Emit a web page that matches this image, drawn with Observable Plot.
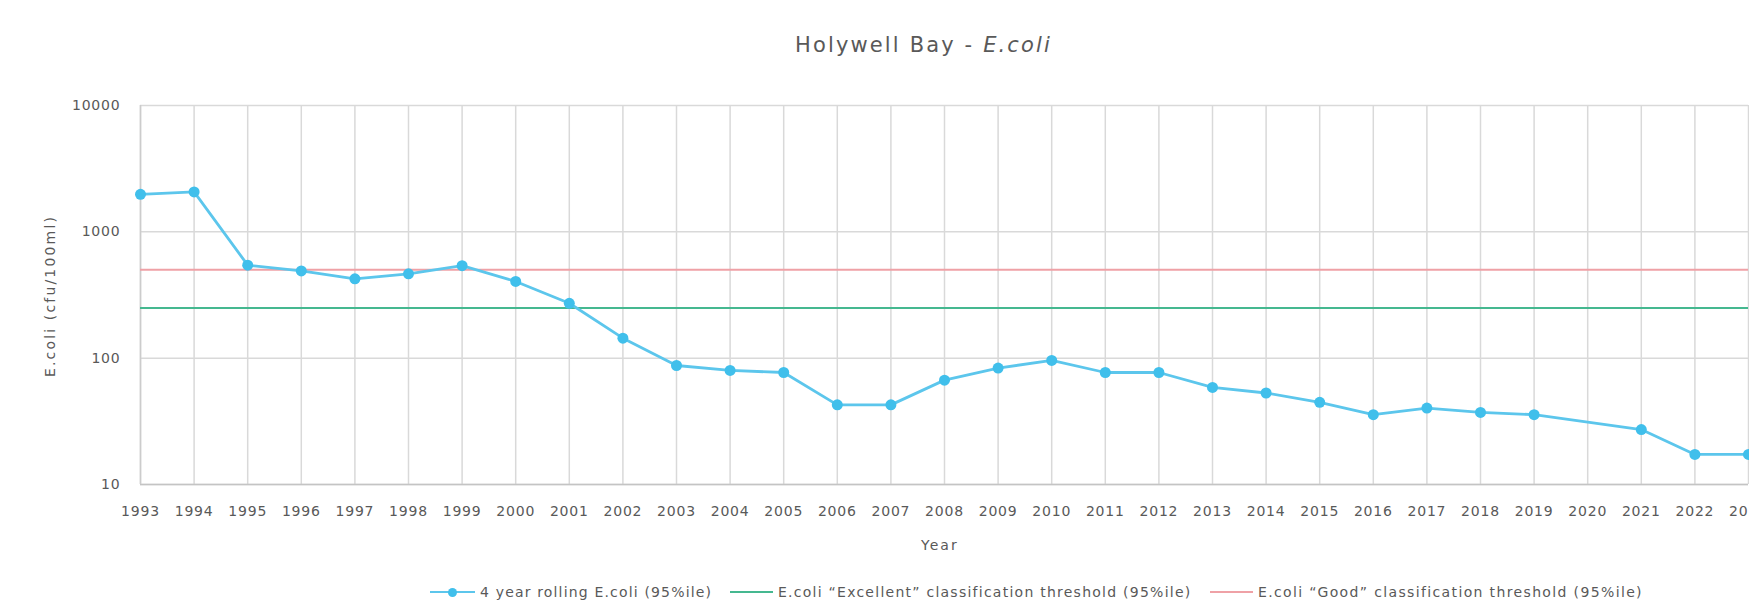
<!DOCTYPE html>
<html>
<head>
<meta charset="utf-8">
<script src="https://cdn.jsdelivr.net/npm/d3@7"></script>
<script src="https://cdn.jsdelivr.net/npm/@observablehq/plot@0.6"></script>
<style>
html, body { margin: 0; padding: 0; background: #fff; overflow: hidden; }
#wrap { position: relative; width: 1749px; height: 600px; font-family: "DejaVu Sans", sans-serif; color: #595959; }
#wrap svg { position: absolute; left: 0; top: 0; }
.lbl { position: absolute; white-space: nowrap; line-height: 1; }
.sw { position: absolute; height: 2px; }
</style>
</head>
<body>
<div id="wrap"></div>
<script>
// ---- data ----
const years = [1993, 1994, 1995, 1996, 1997, 1998, 1999, 2000, 2001, 2002, 2003, 2004, 2005, 2006, 2007, 2008,
               2009, 2010, 2011, 2012, 2013, 2014, 2015, 2016, 2017, 2018, 2019, 2020, 2021, 2022, 2023];
const rollingEcoli = [1980, 2070, 545, 490, 425, 465, 540, 405, 272, 144, 87.5, 80, 77, 42.7, 42.7, 67,
                      83.5, 96, 77, 77, 58.7, 53, 44.7, 35.7, 40.3, 37.2, 35.7, null, 27.2, 17.3, 17.3];
const excellentThreshold = [250];
const goodThreshold = [500];
const yTicks = [10, 100, 1000, 10000];
const titleMain = "Holywell Bay - ";
const titleItalic = "E.coli";
const yLabel = "E.coli (cfu/100ml)";
const xLabel = "Year";
const seriesNames = ["4 year rolling E.coli (95%ile)",
                     "E.coli “Excellent” classification threshold (95%ile)",
                     "E.coli “Good” classification threshold (95%ile)"];

// ---- colours ----
const cLine = "#5cc6ec", cDot = "#40bfeb", cGreen = "#45b890", cRed = "#efa1a6", cGrid = "#d9d9d9";

const data = years.map((y, i) => ({year: y, value: rollingEcoli[i]}));
const pts = data.filter(d => d.value != null);

const plot = Plot.plot({
  width: 1749, height: 600,
  marginTop: 105, marginBottom: 116, marginLeft: 140, marginRight: 1,
  style: {fontFamily: "DejaVu Sans, sans-serif", fontSize: "14px", color: "#595959", background: "transparent"},
  x: {domain: [1993, 2023], label: null},
  y: {type: "log", domain: [10, 10000], label: null},
  marks: [
    Plot.gridX(years, {stroke: cGrid, strokeOpacity: 1, strokeWidth: 1.5}),
    Plot.gridY(yTicks, {stroke: cGrid, strokeOpacity: 1, strokeWidth: 1.5}),
    Plot.ruleY(yTicks.slice(0, 1), {stroke: "#c4c4c4", strokeWidth: 1.5}),
    Plot.ruleX(years.slice(0, 1), {stroke: "#cccccc", strokeWidth: 1.5}),
    Plot.ruleY(goodThreshold, {stroke: cRed, strokeWidth: 2}),
    Plot.ruleY(excellentThreshold, {stroke: cGreen, strokeWidth: 2}),
    Plot.line(pts, {x: "year", y: "value", stroke: cLine, strokeWidth: 2.8}),
    Plot.dot(pts, {x: "year", y: "value", fill: cDot, r: 5.5}),
    Plot.axisX(years, {tickSize: 0, tickPadding: 22, tickFormat: d => String(d), label: null}),
    Plot.axisY(yTicks, {tickSize: 0, tickPadding: 20, tickFormat: d => String(d), label: null})
  ]
});

const wrap = document.getElementById("wrap");
wrap.appendChild(plot);
plot.querySelectorAll('g[aria-label="x-axis tick label"] text, g[aria-label="y-axis tick label"] text')
  .forEach(t => t.style.letterSpacing = "0.8px");

function fit(el, target) {
  el.style.letterSpacing = "0px";
  const w0 = el.offsetWidth;
  const n = el.textContent.length;
  el.style.letterSpacing = ((target - w0) / n) + "px";
}
function label(html, opts) {
  const el = document.createElement("div");
  el.className = "lbl";
  el.innerHTML = html;
  el.style.fontSize = opts.size + "px";
  wrap.appendChild(el);
  if (opts.width) fit(el, opts.width);
  const w = el.offsetWidth, h = el.offsetHeight;
  if (opts.rotate) {
    el.style.left = (opts.cx - w / 2) + "px";
    el.style.top = (opts.cy - h / 2) + "px";
    el.style.transform = "rotate(-90deg)";
  } else if (opts.cx != null) {
    el.style.left = (opts.cx - w / 2) + "px";
    el.style.top = (opts.cy - h / 2) + "px";
  } else {
    el.style.left = opts.x + "px";
    el.style.top = (opts.cy - h / 2) + "px";
  }
  return el;
}

// title
label(titleMain + "<i>" + titleItalic + "</i>", {size: 21, width: 257, cx: 923.5, cy: 45});
// axis titles
label(yLabel, {size: 14, width: 162, cx: 50, cy: 296, rotate: true});
label(xLabel, {size: 14, width: 38, cx: 940, cy: 545});

// legend
function swatch(x1, x2, cy, color, dot) {
  const s = document.createElement("div");
  s.className = "sw";
  s.style.left = x1 + "px"; s.style.width = (x2 - x1) + "px";
  s.style.top = (cy - 1) + "px"; s.style.background = color;
  wrap.appendChild(s);
  if (dot) {
    const d = document.createElement("div");
    d.style.cssText = `position:absolute;width:9px;height:9px;border-radius:50%;background:${cDot};left:${(x1 + x2) / 2 - 4.5}px;top:${cy - 4.5}px`;
    wrap.appendChild(d);
  }
}
const ly = 592;
swatch(430, 475, ly, cLine, true);
label(seriesNames[0], {size: 14, width: 232, x: 480, cy: ly});
swatch(730, 773, ly, cGreen, false);
label(seriesNames[1], {size: 14, width: 414, x: 778, cy: ly});
swatch(1210, 1253, ly, cRed, false);
label(seriesNames[2], {size: 14, width: 385, x: 1258, cy: ly});
</script>
</body>
</html>
